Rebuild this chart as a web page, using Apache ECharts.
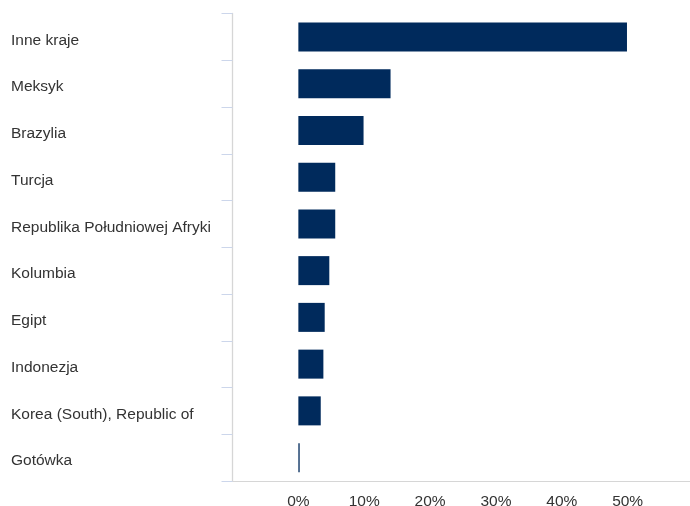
<!DOCTYPE html>
<html><head><meta charset="utf-8">
<script src="https://cdn.jsdelivr.net/npm/echarts@6/dist/echarts.min.js"></script>
<style>html,body{margin:0;padding:0;background:#fff}#c{width:690px;height:506px}</style>
</head><body><div id="c"></div>
<script>
const categories = ["Inne kraje","Meksyk","Brazylia","Turcja","Republika Południowej Afryki","Kolumbia","Egipt","Indonezja","Korea (South), Republic of","Gotówka"];
const values = [49.9, 14.0, 9.9, 5.6, 5.6, 4.7, 4.0, 3.8, 3.4, 0.2];
const xTicks = [0, 10, 20, 30, 40, 50];

const chart = echarts.init(document.getElementById('c'));
chart.setOption({
  animation: false,
  grid: { left: 232.5, top: 13.5, width: 461, height: 467.5, containLabel: false, outerBoundsMode: 'none' },
  xAxis: {
    type: 'value', min: -10, max: 60, interval: 10,
    axisLine: { show: true, lineStyle: { color: '#d6d6d6', width: 1 } },
    axisTick: { show: false },
    splitLine: { show: false },
    axisLabel: {
      margin: 13, fontSize: 15.5, color: '#333', fontFamily: 'Liberation Sans, Arial, sans-serif',
      formatter: v => xTicks.includes(v) ? v + '%' : ''
    }
  },
  yAxis: {
    type: 'category', inverse: true, data: categories,
    axisLine: { show: true, onZero: false, lineStyle: { color: '#d6d6d6', width: 1.3 } },
    axisTick: { show: true, length: 11, lineStyle: { color: '#ccd6eb' } },
    axisLabel: {
      align: 'left', margin: 221.5, fontSize: 15.5, color: '#333',
      verticalAlign: 'top', lineHeight: 7,
      fontFamily: 'Liberation Sans, Arial, sans-serif'
    }
  },
  series: [{
    type: 'bar', data: values, barWidth: 29,
    itemStyle: { color: '#002A5C' }
  }]
});
</script></body></html>
